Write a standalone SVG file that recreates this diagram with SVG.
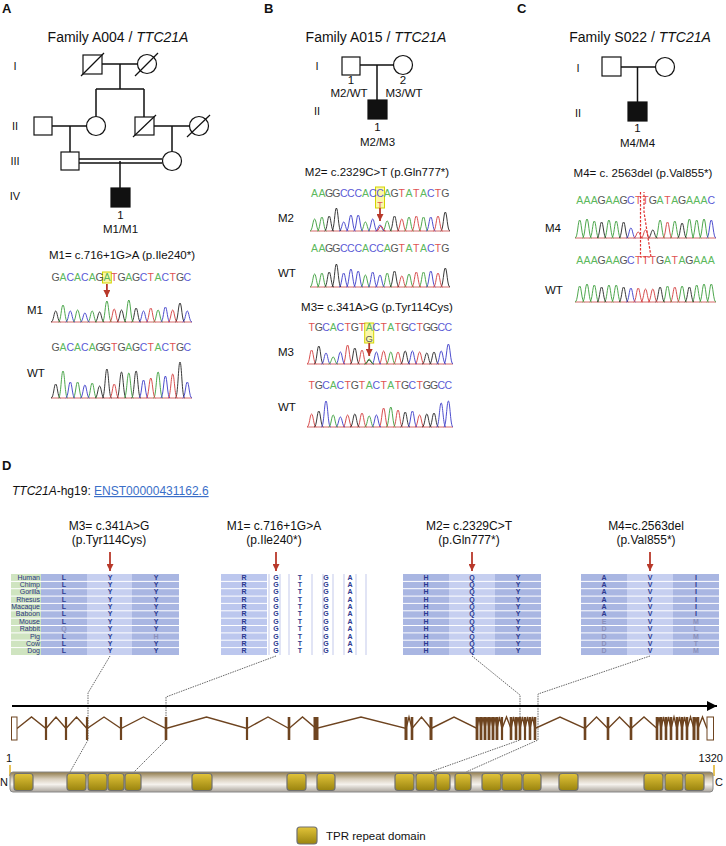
<svg xmlns="http://www.w3.org/2000/svg" width="726" height="846" viewBox="0 0 726 846">
<style>
text{font-family:"Liberation Sans",Arial,sans-serif;fill:#111}
.pn{font-size:13px;font-weight:bold}
.ttl{font-size:14px;text-anchor:middle}
.lab{font-size:11.5px;text-anchor:middle}
.lbl{font-size:11.5px}
.gen{font-size:11px;text-anchor:middle}
.mut{font-size:11.5px;text-anchor:middle}
.dm{font-size:12px;text-anchor:middle}
.seq{font-size:10.5px;text-anchor:middle;font-family:"Liberation Sans Narrow","Liberation Sans",sans-serif}
.a{fill:#5cb85c}.c{fill:#5a5ad6}.g{fill:#555}.t{fill:#e05252}
.pk{fill:none;stroke-width:0.9}
.pA{stroke:#3a9d3a}.pC{stroke:#3a3ac8}.pG{stroke:#222}.pT{stroke:#d23c3c}
.bl{stroke:#d05a5a;stroke-width:0.9}
.nd rect,.nd circle{fill:#fff;stroke:#111;stroke-width:1.2}
.nd .aff{fill:#111}
.nd line{stroke:#111;stroke-width:1.2}
.pl{stroke:#111;stroke-width:1.5;fill:none}
.al{font-size:7px;font-weight:bold;fill:#2b3990;text-anchor:middle}
.fd{fill:#8a90bb}
.sp{font-size:7px;fill:#2b3580;text-anchor:end}
.dk{fill:#a9b6e2}.lt{fill:#c6cff0}
.sep{stroke:#fff;stroke-width:1;fill:none}
.dot{fill:none;stroke:#666;stroke-width:1;stroke-dasharray:1.5 1}
.ra{stroke:#b8382a;stroke-width:1.8;fill:none}
.yb{fill:#fbf7a8;stroke:#d4d400;stroke-width:1}
.ex{fill:#6e4420}
.exo{fill:#fff;stroke:#6e4420;stroke-width:1}
.tpr{fill:url(#tprg);stroke:#707070;stroke-width:1.2}
</style>
<defs>
<marker id="rah" viewBox="0 0 10 10" refX="10" refY="5" markerWidth="7" markerHeight="7" markerUnits="userSpaceOnUse" orient="auto"><path d="M0,0L10,5L0,10z" fill="#b8382a"/></marker>
<marker id="bah" viewBox="0 0 10 10" refX="10" refY="5" markerWidth="11" markerHeight="10" markerUnits="userSpaceOnUse" orient="auto"><path d="M0,0L10,5L0,10z" fill="#000"/></marker>
<linearGradient id="barg" x1="0" y1="0" x2="0" y2="1"><stop offset="0" stop-color="#8f7a4a"/><stop offset="0.35" stop-color="#d9cfbd"/><stop offset="0.62" stop-color="#f5f2ed"/><stop offset="1" stop-color="#a9a39b"/></linearGradient>
<linearGradient id="tprg" x1="0" y1="0" x2="0" y2="1"><stop offset="0" stop-color="#e2c43a"/><stop offset="1" stop-color="#9a840e"/></linearGradient>
</defs>
<rect width="726" height="846" fill="#fff"/>

<!-- panel letters and titles -->
<text class="pn" x="2" y="13">A</text>
<text class="pn" x="264" y="13">B</text>
<text class="pn" x="517" y="13">C</text>
<text class="pn" x="2" y="470">D</text>
<text class="ttl" x="118" y="42">Family A004 / <tspan font-style="italic">TTC21A</tspan></text>
<text class="ttl" x="376" y="42">Family A015 / <tspan font-style="italic">TTC21A</tspan></text>
<text class="ttl" x="640" y="42">Family S022 / <tspan font-style="italic">TTC21A</tspan></text>

<!-- generation labels -->
<text class="gen" x="15" y="70">I</text>
<text class="gen" x="15" y="130">II</text>
<text class="gen" x="15" y="165">III</text>
<text class="gen" x="15" y="200">IV</text>
<text class="gen" x="317" y="70">I</text>
<text class="gen" x="317" y="115">II</text>
<text class="gen" x="578" y="72">I</text>
<text class="gen" x="578" y="117">II</text>

<!-- connectors -->
<g id="connectors">
<path class="pl" d="M102,64H137.5M120,64V89M96,89H144M96,89V116.5M144,89V117"/>
<path class="pl" d="M52,126H86.5M70,126V152M154,126H189.5M172,126V151.5"/>
<path class="pl" d="M79,159H162.5M79,163H162.5M120,161V188" stroke-width="1.3"/>
<path class="pl" d="M360,65H394M377,65V100"/>
<path class="pl" d="M621,67H655.5M637.5,67V102"/>
<path class="dot" d="M110,656L88,693V740L70,772"/>
<path class="dot" d="M276,656L166,697V740L134,772"/>
<path class="dot" d="M472,656L520,695V740L430,772"/>
<path class="dot" d="M650,656L538,694V740L466,772"/>
</g>

<!-- pedigree A -->
<g id="A-I-1" class="nd"><rect x="83" y="55" width="19" height="19"/><line x1="81" y1="76" x2="104" y2="53"/></g>
<g id="A-I-2" class="nd"><circle cx="147" cy="64" r="9.5"/><line x1="135" y1="76" x2="158" y2="53"/></g>
<g id="A-II-1" class="nd"><rect x="34" y="117" width="18" height="18"/></g>
<g id="A-II-2" class="nd"><circle cx="96" cy="126" r="9.5"/></g>
<g id="A-II-3" class="nd"><rect x="135" y="117" width="19" height="18"/><line x1="133" y1="137" x2="156" y2="115"/></g>
<g id="A-II-4" class="nd"><circle cx="199" cy="126" r="9.5"/><line x1="187" y1="137" x2="210" y2="115"/></g>
<g id="A-III-1" class="nd"><rect x="61" y="152" width="18" height="18"/></g>
<g id="A-III-2" class="nd"><circle cx="172" cy="161" r="9.5"/></g>
<g id="A-IV-1" class="nd"><rect class="aff" x="111" y="188" width="19" height="19"/>
<text class="lab" x="120.5" y="219">1</text><text class="lab" x="120.5" y="233">M1/M1</text></g>

<!-- pedigree B -->
<g id="B-I-1" class="nd"><rect x="342" y="57" width="18" height="18"/>
<text class="lab" x="351" y="84">1</text><text class="lab" x="349" y="97">M2/WT</text></g>
<g id="B-I-2" class="nd"><circle cx="403" cy="65" r="9.5"/>
<text class="lab" x="403" y="84">2</text><text class="lab" x="404" y="97">M3/WT</text></g>
<g id="B-II-1" class="nd"><rect class="aff" x="368" y="100" width="19" height="19"/>
<text class="lab" x="377.5" y="131">1</text><text class="lab" x="377.5" y="146">M2/M3</text></g>

<!-- pedigree C -->
<g id="C-I-1" class="nd"><rect x="602" y="57" width="19" height="19"/></g>
<g id="C-I-2" class="nd"><circle cx="665" cy="67" r="9.5"/></g>
<g id="C-II-1" class="nd"><rect class="aff" x="628" y="102" width="19" height="19"/>
<text class="lab" x="637.5" y="132">1</text><text class="lab" x="637.5" y="147">M4/M4</text></g>

<!-- panel A sequencing -->
<text class="mut" x="122" y="259">M1= c.716+1G&gt;A (p.Ile240*)</text>
<rect class="yb" x="102.5" y="272" width="8.8" height="11"/>
<text class="seq" y="281" x="55.7 63 70.3 77.6 84.9 92.2 99.6 106.9 114.2 121.5 128.8 136.1 143.5 150.8 158.1 165.4 172.7 180 187.3"><tspan class="g">G</tspan><tspan class="a">A</tspan><tspan class="c">C</tspan><tspan class="a">A</tspan><tspan class="c">C</tspan><tspan class="a">A</tspan><tspan class="g">G</tspan><tspan class="a">A</tspan><tspan class="t">T</tspan><tspan class="g">G</tspan><tspan class="a">A</tspan><tspan class="g">G</tspan><tspan class="c">C</tspan><tspan class="t">T</tspan><tspan class="a">A</tspan><tspan class="c">C</tspan><tspan class="t">T</tspan><tspan class="g">G</tspan><tspan class="c">C</tspan></text>
<line class="ra" x1="106.9" y1="284" x2="106.9" y2="297" marker-end="url(#rah)"/>
<text class="lbl" x="27" y="314">M1</text>
<line class="bl" x1="51" y1="322" x2="192" y2="322"/>
<path class="pk pG" d="M51.1,322c2.6,0 2.9,-11 4.6,-11s2,11 4.6,11M95,322c2.6,0 2.9,-10 4.6,-10s2,10 4.6,10M116.9,322c2.6,0 2.9,-12 4.6,-12s2,12 4.6,12M131.5,322c2.6,0 2.9,-14 4.6,-14s2,14 4.6,14M175.4,322c2.6,0 2.9,-19 4.6,-19s2,19 4.6,19"/>
<path class="pk pA" d="M58.4,322c2.6,0 2.9,-17 4.6,-17s2,17 4.6,17M73,322c2.6,0 2.9,-12 4.6,-12s2,12 4.6,12M87.6,322c2.6,0 2.9,-11 4.6,-11s2,11 4.6,11M102.3,322c2.6,0 2.9,-21 4.6,-21s2,21 4.6,21M124.2,322c2.6,0 2.9,-22 4.6,-22s2,22 4.6,22M153.5,322c2.6,0 2.9,-12 4.6,-12s2,12 4.6,12"/>
<path class="pk pC" d="M65.7,322c2.6,0 2.9,-11 4.6,-11s2,11 4.6,11M80.3,322c2.6,0 2.9,-9 4.6,-9s2,9 4.6,9M138.9,322c2.6,0 2.9,-11 4.6,-11s2,11 4.6,11M160.8,322c2.6,0 2.9,-15 4.6,-15s2,15 4.6,15M182.7,322c2.6,0 2.9,-11 4.6,-11s2,11 4.6,11"/>
<path class="pk pT" d="M109.6,322c2.6,0 2.9,-13 4.6,-13s2,13 4.6,13M146.2,322c2.6,0 2.9,-14 4.6,-14s2,14 4.6,14M168.1,322c2.6,0 2.9,-12 4.6,-12s2,12 4.6,12"/>
<text class="seq" y="351" x="55.7 63 70.3 77.6 84.9 92.2 99.6 106.9 114.2 121.5 128.8 136.1 143.5 150.8 158.1 165.4 172.7 180 187.3"><tspan class="g">G</tspan><tspan class="a">A</tspan><tspan class="c">C</tspan><tspan class="a">A</tspan><tspan class="c">C</tspan><tspan class="a">A</tspan><tspan class="g">GG</tspan><tspan class="t">T</tspan><tspan class="g">G</tspan><tspan class="a">A</tspan><tspan class="g">G</tspan><tspan class="c">C</tspan><tspan class="t">T</tspan><tspan class="a">A</tspan><tspan class="c">C</tspan><tspan class="t">T</tspan><tspan class="g">G</tspan><tspan class="c">C</tspan></text>
<text class="lbl" x="27" y="377">WT</text>
<line class="bl" x1="51" y1="398" x2="192" y2="398"/>
<path class="pk pG" d="M51.1,398c2.6,0 2.9,-14 4.6,-14s2,14 4.6,14M95,398c2.6,0 2.9,-12 4.6,-12s2,12 4.6,12M102.3,398c2.6,0 2.9,-29 4.6,-29s2,29 4.6,29M116.9,398c2.6,0 2.9,-26 4.6,-26s2,26 4.6,26M131.5,398c2.6,0 2.9,-27 4.6,-27s2,27 4.6,27M175.4,398c2.6,0 2.9,-36 4.6,-36s2,36 4.6,36"/>
<path class="pk pA" d="M58.4,398c2.6,0 2.9,-27 4.6,-27s2,27 4.6,27M73,398c2.6,0 2.9,-16 4.6,-16s2,16 4.6,16M87.6,398c2.6,0 2.9,-15 4.6,-15s2,15 4.6,15M124.2,398c2.6,0 2.9,-25 4.6,-25s2,25 4.6,25M153.5,398c2.6,0 2.9,-26 4.6,-26s2,26 4.6,26"/>
<path class="pk pC" d="M65.7,398c2.6,0 2.9,-16 4.6,-16s2,16 4.6,16M80.3,398c2.6,0 2.9,-13 4.6,-13s2,13 4.6,13M138.9,398c2.6,0 2.9,-18 4.6,-18s2,18 4.6,18M160.8,398c2.6,0 2.9,-22 4.6,-22s2,22 4.6,22M182.7,398c2.6,0 2.9,-16 4.6,-16s2,16 4.6,16"/>
<path class="pk pT" d="M109.6,398c2.6,0 2.9,-14 4.6,-14s2,14 4.6,14M146.2,398c2.6,0 2.9,-20 4.6,-20s2,20 4.6,20M168.1,398c2.6,0 2.9,-24 4.6,-24s2,24 4.6,24"/>

<!-- panel B sequencing -->
<text class="mut" x="377" y="176">M2= c.2329C&gt;T (p.Gln777*)</text>
<rect class="yb" x="375.5" y="187" width="9" height="21"/>
<text class="seq" y="197" x="314.6 321.9 329.2 336.4 343.7 350.9 358.2 365.4 372.7 380 387.2 394.5 401.8 409 416.3 423.5 430.8 438 445.3"><tspan class="a">AA</tspan><tspan class="g">GG</tspan><tspan class="c">CCC</tspan><tspan class="a">A</tspan><tspan class="c">CC</tspan><tspan class="a">A</tspan><tspan class="g">G</tspan><tspan class="t">T</tspan><tspan class="a">A</tspan><tspan class="t">T</tspan><tspan class="a">A</tspan><tspan class="c">C</tspan><tspan class="t">T</tspan><tspan class="g">G</tspan></text>
<text class="seq t" x="380" y="207.5" style="font-size:9px">T</text>
<line class="ra" x1="380" y1="208" x2="380" y2="221" marker-end="url(#rah)"/>
<text class="lbl" x="278" y="222">M2</text>
<line class="bl" x1="310" y1="231" x2="450" y2="231"/>
<path class="pk pA" d="M310,231c2.6,0 2.9,-12 4.6,-12s2,12 4.6,12M317.3,231c2.6,0 2.9,-14 4.6,-14s2,14 4.6,14M360.8,231c2.6,0 2.9,-9 4.6,-9s2,9 4.6,9M382.6,231c2.6,0 2.9,-10 4.6,-10s2,10 4.6,10M404.4,231c2.6,0 2.9,-14 4.6,-14s2,14 4.6,14M418.9,231c2.6,0 2.9,-14 4.6,-14s2,14 4.6,14"/>
<path class="pk pG" d="M324.6,231c2.6,0 2.9,-15 4.6,-15s2,15 4.6,15M331.8,231c2.6,0 2.9,-23 4.6,-23s2,23 4.6,23M389.9,231c2.6,0 2.9,-15 4.6,-15s2,15 4.6,15M440.7,231c2.6,0 2.9,-19 4.6,-19s2,19 4.6,19"/>
<path class="pk pC" d="M339.1,231c2.6,0 2.9,-9 4.6,-9s2,9 4.6,9M346.3,231c2.6,0 2.9,-16 4.6,-16s2,16 4.6,16M353.6,231c2.6,0 2.9,-16 4.6,-16s2,16 4.6,16M368.1,231c2.6,0 2.9,-12 4.6,-12s2,12 4.6,12M375.4,231c2.6,0 2.9,-6 4.6,-6s2,6 4.6,6M426.2,231c2.6,0 2.9,-14 4.6,-14s2,14 4.6,14"/>
<path class="pk pT" d="M376.4,231c2.6,0 2.9,-5 4.6,-5s2,5 4.6,5M397.2,231c2.6,0 2.9,-12 4.6,-12s2,12 4.6,12M411.7,231c2.6,0 2.9,-15 4.6,-15s2,15 4.6,15M433.4,231c2.6,0 2.9,-15 4.6,-15s2,15 4.6,15"/>
<text class="seq" y="252" x="314.6 321.9 329.2 336.4 343.7 350.9 358.2 365.4 372.7 380 387.2 394.5 401.8 409 416.3 423.5 430.8 438 445.3"><tspan class="a">AA</tspan><tspan class="g">GG</tspan><tspan class="c">CCC</tspan><tspan class="a">A</tspan><tspan class="c">CC</tspan><tspan class="a">A</tspan><tspan class="g">G</tspan><tspan class="t">T</tspan><tspan class="a">A</tspan><tspan class="t">T</tspan><tspan class="a">A</tspan><tspan class="c">C</tspan><tspan class="t">T</tspan><tspan class="g">G</tspan></text>
<text class="lbl" x="278" y="277">WT</text>
<line class="bl" x1="310" y1="287" x2="450" y2="287"/>
<path class="pk pA" d="M310,287c2.6,0 2.9,-13 4.6,-13s2,13 4.6,13M317.3,287c2.6,0 2.9,-14 4.6,-14s2,14 4.6,14M360.8,287c2.6,0 2.9,-12 4.6,-12s2,12 4.6,12M382.6,287c2.6,0 2.9,-14 4.6,-14s2,14 4.6,14M404.4,287c2.6,0 2.9,-13 4.6,-13s2,13 4.6,13M418.9,287c2.6,0 2.9,-15 4.6,-15s2,15 4.6,15"/>
<path class="pk pG" d="M324.6,287c2.6,0 2.9,-15 4.6,-15s2,15 4.6,15M331.8,287c2.6,0 2.9,-23 4.6,-23s2,23 4.6,23M389.9,287c2.6,0 2.9,-16 4.6,-16s2,16 4.6,16M440.7,287c2.6,0 2.9,-19 4.6,-19s2,19 4.6,19"/>
<path class="pk pC" d="M339.1,287c2.6,0 2.9,-14 4.6,-14s2,14 4.6,14M346.3,287c2.6,0 2.9,-18 4.6,-18s2,18 4.6,18M353.6,287c2.6,0 2.9,-16 4.6,-16s2,16 4.6,16M368.1,287c2.6,0 2.9,-15 4.6,-15s2,15 4.6,15M375.4,287c2.6,0 2.9,-12 4.6,-12s2,12 4.6,12M426.2,287c2.6,0 2.9,-16 4.6,-16s2,16 4.6,16"/>
<path class="pk pT" d="M397.2,287c2.6,0 2.9,-11 4.6,-11s2,11 4.6,11M411.7,287c2.6,0 2.9,-15 4.6,-15s2,15 4.6,15M433.4,287c2.6,0 2.9,-14 4.6,-14s2,14 4.6,14"/>

<text class="mut" x="377" y="311">M3= c.341A&gt;G (p.Tyr114Cys)</text>
<rect class="yb" x="364.7" y="323" width="9" height="20"/>
<text class="seq" y="331" x="311.6 318.8 326 333.2 340.4 347.6 354.8 362 369.2 376.4 383.6 390.8 398 405.2 412.4 419.6 426.8 434 441.2 448.4"><tspan class="t">T</tspan><tspan class="g">G</tspan><tspan class="c">C</tspan><tspan class="a">A</tspan><tspan class="c">C</tspan><tspan class="t">T</tspan><tspan class="g">G</tspan><tspan class="t">T</tspan><tspan class="a">A</tspan><tspan class="c">C</tspan><tspan class="t">T</tspan><tspan class="a">A</tspan><tspan class="t">T</tspan><tspan class="g">G</tspan><tspan class="c">C</tspan><tspan class="t">T</tspan><tspan class="g">GG</tspan><tspan class="c">CC</tspan></text>
<text class="seq g" x="369.2" y="342" style="font-size:9.5px">G</text>
<line class="ra" x1="369.2" y1="343" x2="369.2" y2="356" marker-end="url(#rah)"/>
<text class="lbl" x="278" y="356">M3</text>
<line class="bl" x1="307" y1="364" x2="453" y2="364"/>
<path class="pk pT" d="M307,364c2.6,0 2.9,-14 4.6,-14s2,14 4.6,14M343,364c2.6,0 2.9,-19 4.6,-19s2,19 4.6,19M357.4,364c2.6,0 2.9,-14 4.6,-14s2,14 4.6,14M379,364c2.6,0 2.9,-13 4.6,-13s2,13 4.6,13M393.4,364c2.6,0 2.9,-12 4.6,-12s2,12 4.6,12M415,364c2.6,0 2.9,-12 4.6,-12s2,12 4.6,12"/>
<path class="pk pG" d="M314.2,364c2.6,0 2.9,-18 4.6,-18s2,18 4.6,18M350.2,364c2.6,0 2.9,-16 4.6,-16s2,16 4.6,16M364.6,364c2.6,0 2.9,-4 4.6,-4s2,4 4.6,4M400.6,364c2.6,0 2.9,-13 4.6,-13s2,13 4.6,13M422.2,364c2.6,0 2.9,-11 4.6,-11s2,11 4.6,11M429.4,364c2.6,0 2.9,-12 4.6,-12s2,12 4.6,12"/>
<path class="pk pC" d="M321.4,364c2.6,0 2.9,-11 4.6,-11s2,11 4.6,11M335.8,364c2.6,0 2.9,-12 4.6,-12s2,12 4.6,12M371.8,364c2.6,0 2.9,-12 4.6,-12s2,12 4.6,12M407.8,364c2.6,0 2.9,-13 4.6,-13s2,13 4.6,13M436.6,364c2.6,0 2.9,-13 4.6,-13s2,13 4.6,13M443.8,364c2.6,0 2.9,-20 4.6,-20s2,20 4.6,20"/>
<path class="pk pA" d="M328.6,364c2.6,0 2.9,-7 4.6,-7s2,7 4.6,7M364.6,364c2.6,0 2.9,-5 4.6,-5s2,5 4.6,5M386.2,364c2.6,0 2.9,-12 4.6,-12s2,12 4.6,12"/>
<text class="seq" y="389" x="311.6 318.8 326 333.2 340.4 347.6 354.8 362 369.2 376.4 383.6 390.8 398 405.2 412.4 419.6 426.8 434 441.2 448.4"><tspan class="t">T</tspan><tspan class="g">G</tspan><tspan class="c">C</tspan><tspan class="a">A</tspan><tspan class="c">C</tspan><tspan class="t">T</tspan><tspan class="g">G</tspan><tspan class="t">T</tspan><tspan class="a">A</tspan><tspan class="c">C</tspan><tspan class="t">T</tspan><tspan class="a">A</tspan><tspan class="t">T</tspan><tspan class="g">G</tspan><tspan class="c">C</tspan><tspan class="t">T</tspan><tspan class="g">GG</tspan><tspan class="c">CC</tspan></text>
<text class="lbl" x="278" y="411">WT</text>
<line class="bl" x1="307" y1="427" x2="453" y2="427"/>
<path class="pk pT" d="M307,427c2.6,0 2.9,-13 4.6,-13s2,13 4.6,13M343,427c2.6,0 2.9,-12 4.6,-12s2,12 4.6,12M357.4,427c2.6,0 2.9,-14 4.6,-14s2,14 4.6,14M379,427c2.6,0 2.9,-19 4.6,-19s2,19 4.6,19M393.4,427c2.6,0 2.9,-17 4.6,-17s2,17 4.6,17M415,427c2.6,0 2.9,-12 4.6,-12s2,12 4.6,12"/>
<path class="pk pG" d="M314.2,427c2.6,0 2.9,-16 4.6,-16s2,16 4.6,16M350.2,427c2.6,0 2.9,-13 4.6,-13s2,13 4.6,13M400.6,427c2.6,0 2.9,-15 4.6,-15s2,15 4.6,15M422.2,427c2.6,0 2.9,-13 4.6,-13s2,13 4.6,13M429.4,427c2.6,0 2.9,-14 4.6,-14s2,14 4.6,14"/>
<path class="pk pC" d="M321.4,427c2.6,0 2.9,-26 4.6,-26s2,26 4.6,26M335.8,427c2.6,0 2.9,-10 4.6,-10s2,10 4.6,10M371.8,427c2.6,0 2.9,-12 4.6,-12s2,12 4.6,12M407.8,427c2.6,0 2.9,-16 4.6,-16s2,16 4.6,16M436.6,427c2.6,0 2.9,-24 4.6,-24s2,24 4.6,24M443.8,427c2.6,0 2.9,-26 4.6,-26s2,26 4.6,26"/>
<path class="pk pA" d="M328.6,427c2.6,0 2.9,-12 4.6,-12s2,12 4.6,12M364.6,427c2.6,0 2.9,-11 4.6,-11s2,11 4.6,11M386.2,427c2.6,0 2.9,-20 4.6,-20s2,20 4.6,20"/>

<!-- panel C sequencing -->
<text class="mut" x="643" y="177">M4= c. 2563del (p.Val855*)</text>
<text class="seq" y="204" x="579.7 587 594.3 601.6 608.9 616.2 623.6 630.9 638.2 645.5 652.8 660.1 667.5 674.8 682.1 689.4 696.7 704 711.3"><tspan class="a">AAA</tspan><tspan class="g">G</tspan><tspan class="a">AA</tspan><tspan class="g">G</tspan><tspan class="c">C</tspan><tspan class="t">TT</tspan><tspan class="g">G</tspan><tspan class="a">A</tspan><tspan class="t">T</tspan><tspan class="a">A</tspan><tspan class="g">G</tspan><tspan class="a">AAA</tspan><tspan class="c">C</tspan></text>
<text class="lbl" x="545" y="232">M4</text>
<line class="bl" x1="575" y1="238" x2="716" y2="238"/>
<path class="pk pA" d="M575.1,238c2.6,0 2.9,-18 4.6,-18s2,18 4.6,18M582.4,238c2.6,0 2.9,-19 4.6,-19s2,19 4.6,19M589.7,238c2.6,0 2.9,-17 4.6,-17s2,17 4.6,17M604.3,238c2.6,0 2.9,-18 4.6,-18s2,18 4.6,18M611.6,238c2.6,0 2.9,-17 4.6,-17s2,17 4.6,17M655.5,238c2.6,0 2.9,-18 4.6,-18s2,18 4.6,18M670.2,238c2.6,0 2.9,-17 4.6,-17s2,17 4.6,17M684.8,238c2.6,0 2.9,-19 4.6,-19s2,19 4.6,19M692.1,238c2.6,0 2.9,-18 4.6,-18s2,18 4.6,18M699.4,238c2.6,0 2.9,-19 4.6,-19s2,19 4.6,19"/>
<path class="pk pG" d="M597,238c2.6,0 2.9,-16 4.6,-16s2,16 4.6,16M619,238c2.6,0 2.9,-16 4.6,-16s2,16 4.6,16M648.2,238c2.6,0 2.9,-8 4.6,-8s2,8 4.6,8M677.5,238c2.6,0 2.9,-15 4.6,-15s2,15 4.6,15"/>
<path class="pk pC" d="M626.3,238c2.6,0 2.9,-10 4.6,-10s2,10 4.6,10M706.7,238c2.6,0 2.9,-18 4.6,-18s2,18 4.6,18"/>
<path class="pk pT" d="M633.6,238c2.6,0 2.9,-6 4.6,-6s2,6 4.6,6M640.9,238c2.6,0 2.9,-8 4.6,-8s2,8 4.6,8M662.9,238c2.6,0 2.9,-16 4.6,-16s2,16 4.6,16"/>
<text class="seq" y="264" x="579.7 587 594.3 601.6 608.9 616.2 623.6 630.9 638.2 645.5 652.8 660.1 667.5 674.8 682.1 689.4 696.7 704 711.3"><tspan class="a">AAA</tspan><tspan class="g">G</tspan><tspan class="a">AA</tspan><tspan class="g">G</tspan><tspan class="c">C</tspan><tspan class="t">TTT</tspan><tspan class="g">G</tspan><tspan class="a">A</tspan><tspan class="t">T</tspan><tspan class="a">A</tspan><tspan class="g">G</tspan><tspan class="a">AAA</tspan></text>
<text class="lbl" x="545" y="294">WT</text>
<line class="bl" x1="575" y1="302" x2="716" y2="302"/>
<path class="pk pA" d="M575.1,302c2.6,0 2.9,-16 4.6,-16s2,16 4.6,16M582.4,302c2.6,0 2.9,-18 4.6,-18s2,18 4.6,18M589.7,302c2.6,0 2.9,-17 4.6,-17s2,17 4.6,17M604.3,302c2.6,0 2.9,-17 4.6,-17s2,17 4.6,17M611.6,302c2.6,0 2.9,-17 4.6,-17s2,17 4.6,17M662.9,302c2.6,0 2.9,-16 4.6,-16s2,16 4.6,16M677.5,302c2.6,0 2.9,-16 4.6,-16s2,16 4.6,16M692.1,302c2.6,0 2.9,-17 4.6,-17s2,17 4.6,17M699.4,302c2.6,0 2.9,-18 4.6,-18s2,18 4.6,18M706.7,302c2.6,0 2.9,-18 4.6,-18s2,18 4.6,18"/>
<path class="pk pG" d="M597,302c2.6,0 2.9,-15 4.6,-15s2,15 4.6,15M619,302c2.6,0 2.9,-15 4.6,-15s2,15 4.6,15M655.5,302c2.6,0 2.9,-15 4.6,-15s2,15 4.6,15M684.8,302c2.6,0 2.9,-15 4.6,-15s2,15 4.6,15"/>
<path class="pk pC" d="M626.3,302c2.6,0 2.9,-14 4.6,-14s2,14 4.6,14"/>
<path class="pk pT" d="M633.6,302c2.6,0 2.9,-14 4.6,-14s2,14 4.6,14M640.9,302c2.6,0 2.9,-13 4.6,-13s2,13 4.6,13M648.2,302c2.6,0 2.9,-13 4.6,-13s2,13 4.6,13M670.2,302c2.6,0 2.9,-15 4.6,-15s2,15 4.6,15"/>
<path d="M640.5,192V257H651L644,212V192" fill="none" stroke="#e03030" stroke-width="1.2" stroke-dasharray="2.5 1.5"/>

<!-- panel D header -->
<text x="12" y="495" style="font-size:12px"><tspan font-style="italic">TTC21A</tspan>-hg19: <tspan fill="#3b6fc8" text-decoration="underline">ENST00000431162.6</tspan></text>
<text class="dm" x="109" y="530">M3= c.341A&gt;G</text><text class="dm" x="109" y="544">(p.Tyr114Cys)</text>
<text class="dm" x="274" y="530">M1= c.716+1G&gt;A</text><text class="dm" x="274" y="544">(p.Ile240*)</text>
<text class="dm" x="469" y="530">M2= c.2329C&gt;T</text><text class="dm" x="469" y="544">(p.Gln777*)</text>
<text class="dm" x="646" y="530">M4=c.2563del</text><text class="dm" x="646" y="544">(p.Val855*)</text>
<line class="ra" x1="110" y1="552" x2="110" y2="571" marker-end="url(#rah)"/>
<line class="ra" x1="276" y1="552" x2="276" y2="571" marker-end="url(#rah)"/>
<line class="ra" x1="472" y1="552" x2="472" y2="571" marker-end="url(#rah)"/>
<line class="ra" x1="650" y1="552" x2="650" y2="571" marker-end="url(#rah)"/>

<!-- alignment 1 -->
<g id="aln-M3">
<rect x="11" y="574" width="30" height="81" fill="#cfe4c0"/>
<rect class="dk" x="41" y="574" width="46" height="81"/>
<rect class="lt" x="87" y="574" width="45" height="81"/>
<rect class="dk" x="132" y="574" width="47" height="81"/>
<path class="sep" d="M11,581.4H179M11,588.7H179M11,596.1H179M11,603.4H179M11,610.8H179M11,618.2H179M11,625.5H179M11,632.9H179M11,640.2H179M11,647.6H179"/>
<text class="sp" x="40" y="579.6">Human</text><text class="sp" x="40" y="587">Chimp</text><text class="sp" x="40" y="594.3">Gorilla</text><text class="sp" x="40" y="601.7">Rhesus</text><text class="sp" x="40" y="609">Macaque</text><text class="sp" x="40" y="616.4">Baboon</text><text class="sp" x="40" y="623.8">Mouse</text><text class="sp" x="40" y="631.1">Rabbit</text><text class="sp" x="40" y="638.5">Pig</text><text class="sp" x="40" y="645.8">Cow</text><text class="sp" x="40" y="653.2">Dog</text>
<text class="al" x="64 64 64 64 64 64 64 64 64 64 64" y="579.6 587 594.3 601.7 609 616.4 623.8 631.1 638.5 645.8 653.2">LLLLLLL<tspan class="fd">Q</tspan>LLL</text>
<text class="al" x="110 110 110 110 110 110 110 110 110 110 110" y="579.6 587 594.3 601.7 609 616.4 623.8 631.1 638.5 645.8 653.2">YYYYYYYYYYY</text>
<text class="al" x="156 156 156 156 156 156 156 156 156 156 156" y="579.6 587 594.3 601.7 609 616.4 623.8 631.1 638.5 645.8 653.2">YYYYYYYY<tspan class="fd">H</tspan>YY</text>
</g>
<!-- alignment 2 -->
<g id="aln-M1">
<rect x="221" y="574" width="46" height="81" fill="#bcc7ee"/>
<path class="sep" d="M221,581.4H267M221,588.7H267M221,596.1H267M221,603.4H267M221,610.8H267M221,618.2H267M221,625.5H267M221,632.9H267M221,640.2H267M221,647.6H267"/>
<path d="M269,574V655M280,574V655M289,574V655M312,574V655M323,574V655M333,574V655M344,574V655M356,574V655M366,574V655" stroke="#cdd2ef" stroke-width="1.2" fill="none"/>
<text class="al" x="244 244 244 244 244 244 244 244 244 244 244" y="579.6 587 594.3 601.7 609 616.4 623.8 631.1 638.5 645.8 653.2">RRRRRRRRRRR</text>
<text class="al" x="276 276 276 276 276 276 276 276 276 276 276" y="579.6 587 594.3 601.7 609 616.4 623.8 631.1 638.5 645.8 653.2">GGGGGGGGGGG</text>
<text class="al" x="300 300 300 300 300 300 300 300 300 300 300" y="579.6 587 594.3 601.7 609 616.4 623.8 631.1 638.5 645.8 653.2">TTTTTTTTTTT</text>
<text class="al" x="326 326 326 326 326 326 326 326 326 326 326" y="579.6 587 594.3 601.7 609 616.4 623.8 631.1 638.5 645.8 653.2">GGGGGGGGGGG</text>
<text class="al" x="350 350 350 350 350 350 350 350 350 350 350" y="579.6 587 594.3 601.7 609 616.4 623.8 631.1 638.5 645.8 653.2">AAAAAAAAAAA</text>
</g>
<!-- alignment 3 -->
<g id="aln-M2">
<rect class="dk" x="403" y="574" width="46" height="81"/>
<rect class="lt" x="449" y="574" width="46" height="81"/>
<rect class="dk" x="495" y="574" width="46" height="81"/>
<path class="sep" d="M403,581.4H541M403,588.7H541M403,596.1H541M403,603.4H541M403,610.8H541M403,618.2H541M403,625.5H541M403,632.9H541M403,640.2H541M403,647.6H541"/>
<text class="al" x="426 426 426 426 426 426 426 426 426 426 426" y="579.6 587 594.3 601.7 609 616.4 623.8 631.1 638.5 645.8 653.2">HHHHHHHHHHH</text>
<text class="al" x="472 472 472 472 472 472 472 472 472 472 472" y="579.6 587 594.3 601.7 609 616.4 623.8 631.1 638.5 645.8 653.2">QQQQQQQQQQQ</text>
<text class="al" x="518 518 518 518 518 518 518 518 518 518 518" y="579.6 587 594.3 601.7 609 616.4 623.8 631.1 638.5 645.8 653.2">YYYYYYYYYYY</text>
</g>
<!-- alignment 4 -->
<g id="aln-M4">
<rect class="dk" x="581" y="574" width="46" height="81"/>
<rect class="lt" x="627" y="574" width="46" height="81"/>
<rect class="dk" x="673" y="574" width="46" height="81"/>
<path class="sep" d="M581,581.4H719M581,588.7H719M581,596.1H719M581,603.4H719M581,610.8H719M581,618.2H719M581,625.5H719M581,632.9H719M581,640.2H719M581,647.6H719"/>
<text class="al" x="604 604 604 604 604 604 604 604 604 604 604" y="579.6 587 594.3 601.7 609 616.4 623.8 631.1 638.5 645.8 653.2">AAAAAA<tspan class="fd">EDDDD</tspan></text>
<text class="al" x="650 650 650 650 650 650 650 650 650 650 650" y="579.6 587 594.3 601.7 609 616.4 623.8 631.1 638.5 645.8 653.2">VVVVVVVVVVV</text>
<text class="al" x="696 696 696 696 696 696 696 696 696 696 696" y="579.6 587 594.3 601.7 609 616.4 623.8 631.1 638.5 645.8 653.2">IIIIII<tspan class="fd">MLMTM</tspan></text>
</g>

<!-- gene structure -->
<g id="gene">
<line x1="12" y1="706" x2="717" y2="706" stroke="#000" stroke-width="2.2" marker-end="url(#bah)"/>
<polyline fill="none" stroke="#6e4420" stroke-width="1.4" points="17,728.5 31.5,717 46,728.5 56,717 66,728.5 76.5,717 87,728.5 104,717 121,728.5 143.5,717 166,728.5 206.5,717 247,728.5 268,717 289,728.5 302.5,717 316,728.5 361,717 406,728.5 409,717 412,728.5 421.5,717 431,728.5 454,717 477,728.5 479,717 481,728.5 483,717 485,728.5 487,717 489,728.5 491,717 493,728.5 495,717 497,728.5 499.5,717 502,728.5 506.5,717 511,728.5 513.5,717 516,728.5 518,717 520,728.5 522.5,717 525,728.5 527.5,717 530,728.5 532.5,717 535,728.5 560,717 585,728.5 596.5,717 608,728.5 619.5,717 631,728.5 644,717 657,728.5 659,717 661,728.5 663.5,717 666,728.5 668.5,717 671,728.5 674,717 677,728.5 679.5,717 682,728.5 684.5,717 687,728.5 690.5,717 694,728.5 696,717 698,728.5 702.5,717 707,728.5"/>
<rect class="exo" x="11.5" y="717" width="5.5" height="23"/>
<rect class="exo" x="707" y="717" width="6.5" height="23"/>
<g class="ex">
<rect x="44.9" y="717" width="2.2" height="23"/><rect x="64.9" y="717" width="2.2" height="23"/><rect x="85.9" y="717" width="2.2" height="23"/><rect x="119.9" y="717" width="2.2" height="23"/><rect x="164.7" y="717" width="2.6" height="23"/><rect x="245.9" y="717" width="2.2" height="23"/><rect x="287.7" y="717" width="2.6" height="23"/><rect x="313.5" y="717" width="5" height="23"/>
<rect x="404.5" y="717" width="3" height="23"/><rect x="410.7" y="717" width="2.6" height="23"/><rect x="429.5" y="717" width="3" height="23"/>
<rect x="475.6" y="717" width="2.8" height="23"/><rect x="479.6" y="717" width="2.8" height="23"/><rect x="483.6" y="717" width="2.8" height="23"/><rect x="487.6" y="717" width="2.8" height="23"/><rect x="491.6" y="717" width="2.8" height="23"/><rect x="495.6" y="717" width="2.8" height="23"/>
<rect x="500.9" y="717" width="2.2" height="23"/><rect x="509.7" y="717" width="2.6" height="23"/><rect x="514.7" y="717" width="2.6" height="23"/><rect x="518.7" y="717" width="2.6" height="23"/><rect x="523.9" y="717" width="2.2" height="23"/><rect x="528.7" y="717" width="2.6" height="23"/><rect x="533.7" y="717" width="2.6" height="23"/>
<rect x="583.7" y="717" width="2.6" height="23"/><rect x="606.7" y="717" width="2.6" height="23"/><rect x="629.7" y="717" width="2.6" height="23"/>
<rect x="655.7" y="717" width="2.6" height="23"/><rect x="659.7" y="717" width="2.6" height="23"/><rect x="664.7" y="717" width="2.6" height="23"/><rect x="669.7" y="717" width="2.6" height="23"/><rect x="675.7" y="717" width="2.6" height="23"/><rect x="680.7" y="717" width="2.6" height="23"/><rect x="685.7" y="717" width="2.6" height="23"/><rect x="692.5" y="717" width="3" height="23"/><rect x="696.7" y="717" width="2.6" height="23"/>
</g>
</g>

<!-- protein -->
<g id="protein">
<text x="9" y="762" style="font-size:11px;text-anchor:middle">1</text>
<text x="723" y="762" style="font-size:11px;text-anchor:end">1320</text>
<path d="M10,765V776M714,765V776" stroke="#e0b020" stroke-width="1.5"/>
<rect x="10" y="772" width="703" height="20" rx="3" fill="url(#barg)" stroke="#888" stroke-width="1"/>
<text x="0" y="786" style="font-size:11px">N</text>
<text x="715" y="786" style="font-size:11px">C</text>
<g class="tpr">
<rect x="14" y="773.5" width="19" height="17" rx="3"/><rect x="67" y="773.5" width="19" height="17" rx="3"/><rect x="88" y="773.5" width="19" height="17" rx="3"/><rect x="108" y="773.5" width="16" height="17" rx="3"/><rect x="125" y="773.5" width="16" height="17" rx="3"/><rect x="192" y="773.5" width="20" height="17" rx="3"/><rect x="287" y="773.5" width="19" height="17" rx="3"/><rect x="317" y="773.5" width="18" height="17" rx="3"/><rect x="395" y="773.5" width="19" height="17" rx="3"/><rect x="416" y="773.5" width="19" height="17" rx="3"/><rect x="436" y="773.5" width="14" height="17" rx="3"/><rect x="455" y="773.5" width="16" height="17" rx="3"/><rect x="482" y="773.5" width="19" height="17" rx="3"/><rect x="502" y="773.5" width="20" height="17" rx="3"/><rect x="523" y="773.5" width="18" height="17" rx="3"/><rect x="559" y="773.5" width="19" height="17" rx="3"/><rect x="644" y="773.5" width="19" height="17" rx="3"/><rect x="665" y="773.5" width="18" height="17" rx="3"/><rect x="685" y="773.5" width="19" height="17" rx="3"/>
</g>
</g>
<g id="legend">
<rect class="tpr" x="297" y="827" width="20" height="17" rx="3"/>
<text x="326" y="840" style="font-size:11.5px">TPR repeat domain</text>
</g>
</svg>
